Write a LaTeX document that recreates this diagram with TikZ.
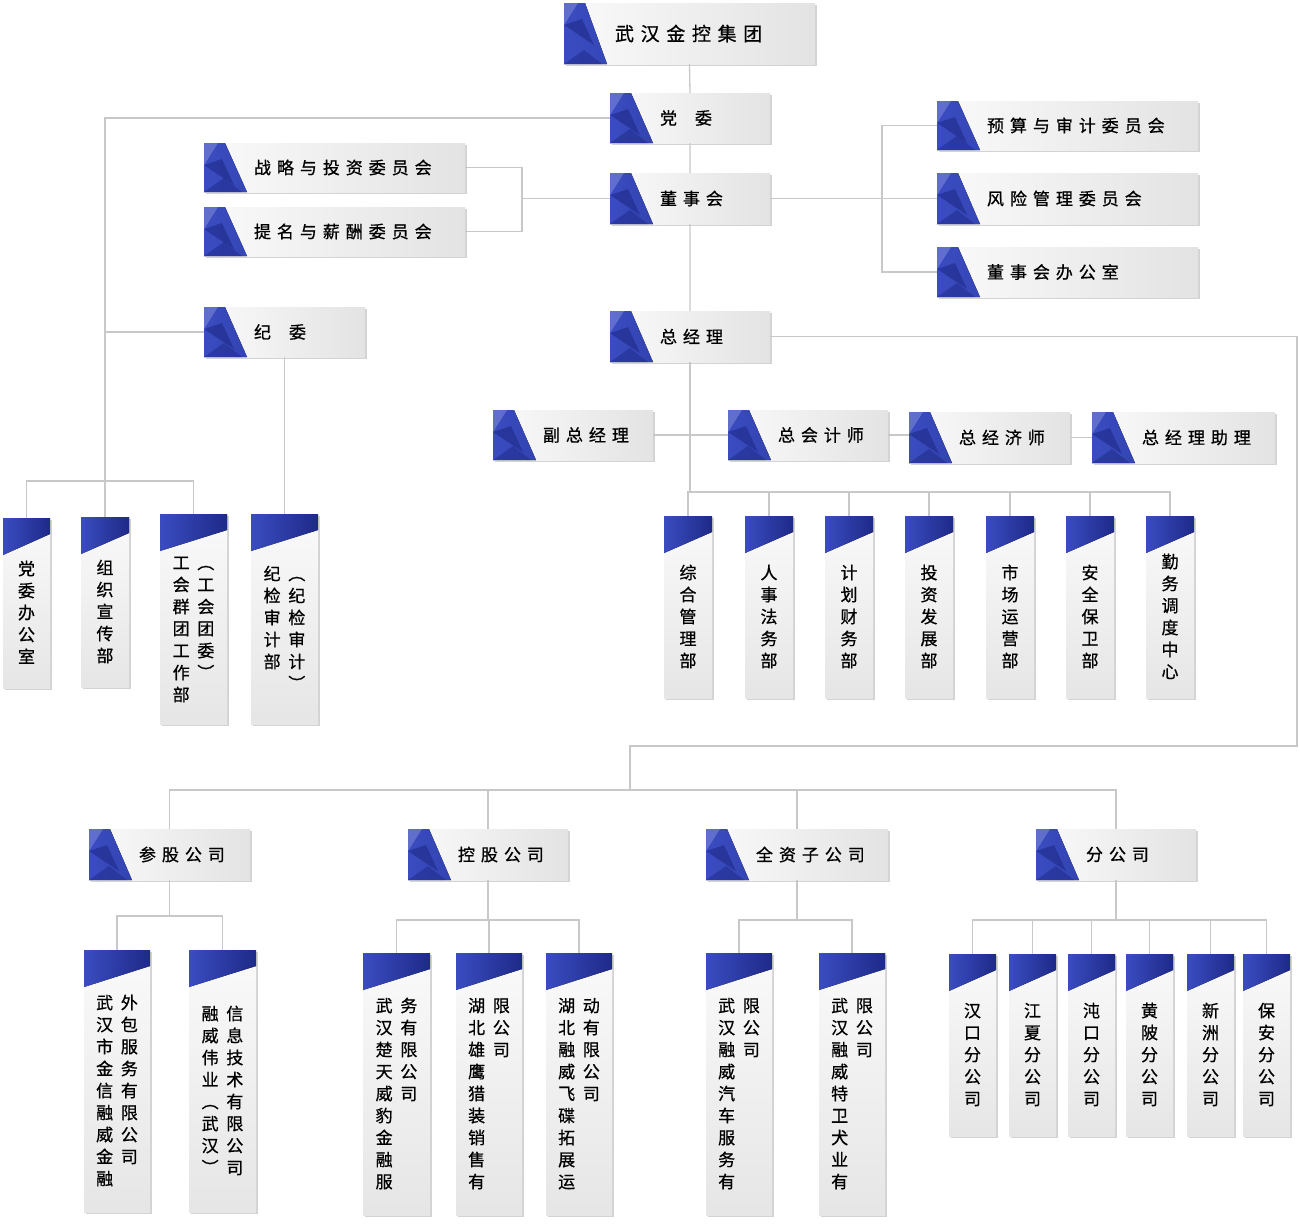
\documentclass[tikz,border=0pt]{standalone}
\usepackage{fontspec}
\setmainfont{Noto Sans CJK SC}[FakeBold=0.7]
\newfontfamily\hfont{Noto Sans CJK SC}[LetterSpace=35,FakeBold=0.7]
\usetikzlibrary{shadows,calc}
\definecolor{bandblue}{HTML}{3A4CC0}
\definecolor{banddark}{HTML}{1E2A88}
\definecolor{linkgray}{HTML}{C8C8C8}
% vertical text: one character per line
\def\vtaux#1{\ifx\relax#1\else\hbox to 1.1em{\hss\vrule height 16pt depth 6pt width 0pt #1\hss}\expandafter\vtaux\fi}
\newcommand\vt[1]{\vtop{\offinterlineskip\vtaux#1\relax}}
\tikzset{
  link/.style={draw=linkgray, line width=1.3pt},
  boxbase/.style={inner sep=0pt, outer sep=0pt, left color=white!96!gray, right color=gray!22,
    drop shadow={shadow xshift=2pt, shadow yshift=-2pt, opacity=0.35}},
  hboxnode/.style={boxbase, align=left, font=\hfont\fontsize{17}{20}\selectfont,
    path picture={
      \fill[left color=bandblue, right color=banddark] (path picture bounding box.north west) -- ++(21,0)
        -- ([xshift=43pt]path picture bounding box.south west) -- (path picture bounding box.south west) -- cycle;
      \fill[white, opacity=0.2] (path picture bounding box.north west) -- ++(14,0) -- ++(-14,22) -- cycle;
      \fill[banddark, opacity=0.6] ([yshift=-22pt]path picture bounding box.north west) -- ++(30,20) -- ++(-12,-26) -- cycle;
      \fill[banddark, opacity=0.5] (path picture bounding box.south west) -- ++(20,-14) -- ++(18,14) -- cycle;}},
  vboxnode/.style={boxbase, top color=white!96!gray, bottom color=gray!20,
    path picture={
      \fill[left color=bandblue, right color=banddark] (path picture bounding box.north west) -- (path picture bounding box.north east)
        -- ([yshift=-16pt]path picture bounding box.north east) -- ([yshift=-37pt]path picture bounding box.north west) -- cycle;
      \fill[white, opacity=0.18] (path picture bounding box.north west) -- ++(18,0) -- ++(-8,-18) -- cycle;
      \fill[banddark, opacity=0.5] ([xshift=12pt]path picture bounding box.north west) -- ++(16,-22) -- ++(-24,-8) -- cycle;}},
  vtext/.style={font=\fontsize{17}{20}\selectfont, inner sep=0pt}
}
% \hbx{name}{x1}{y1}{x2}{y2}{text}
\newcommand\hbx[6]{\node[hboxnode, minimum width={(#4-#2)*1pt}, minimum height={(#5-#3)*1pt},
  text width={(#4-#2-8)*1pt}] (#1) at ({(#2+#4)/2},{(#3+#5)/2}) {\hspace*{46pt}#6};}
% \vbx{name}{x1}{y1}{x2}{y2}{content}
\newcommand\vbx[6]{\node[vboxnode, minimum width={(#4-#2)*1pt}, minimum height={(#5-#3)*1pt}] (#1) at ({(#2+#4)/2},{(#3+#5)/2}) {};
  \node[vtext] (#1t) at ({(#2+#4)/2},{(#3+#5)/2+11}) {#6};}
\begin{document}
\begin{tikzpicture}[x=1pt,y=-1pt]
\useasboundingbox (0,0) rectangle (1300,1224);
%top levels
\node[hboxnode, minimum width=251pt, minimum height=61pt, text width=243pt, font=\hfont\fontsize{19}{22}\selectfont] (grp) at (689.5,33.5) {\hspace*{47pt}武汉金控集团};
\hbx{dw}{610}{93}{770}{143}{党\hspace{18pt}委}
\hbx{dsh}{610}{173}{770}{224}{董事会}
\hbx{zl}{204}{143}{465}{192}{战略与投资委员会}
\hbx{tm}{204}{207}{465}{256}{提名与薪酬委员会}
\hbx{ys}{937}{101}{1198}{150}{预算与审计委员会}
\hbx{fx}{937}{173}{1198}{224}{风险管理委员会}
\hbx{bgs}{937}{247}{1198}{297}{董事会办公室}
\hbx{jw}{204}{307}{365}{357}{纪\hspace{18pt}委}
\hbx{zjl}{610}{311}{770}{362}{总经理}
\hbx{fz}{493}{410}{653}{460}{副总经理}
\hbx{zk}{728}{410}{888}{460}{总会计师}
\hbx{zjs}{909}{412}{1070}{463}{总经济师}
\hbx{zlz}{1092}{412}{1275}{463}{总经理助理}
\hbx{cg}{89}{829}{250}{880}{参股公司}
\hbx{kg}{408}{829}{568}{880}{控股公司}
\hbx{qz}{706}{829}{888}{880}{全资子公司}
\hbx{fg}{1036}{829}{1196}{880}{分公司}
%left departments
\vbx{dwb}{3}{518}{50}{688}{\vt{党委办公室}}
\vbx{zz}{81}{517}{129}{687}{\vt{组织宣传部}}
\vbx{gh}{160}{514}{227}{724}{\vt{工会群团工作部}\hspace{6pt}\vt{︵工会团委︶}}
\vbx{jj}{251}{514}{318}{724}{\vt{纪检审计部}\hspace{6pt}\vt{︵纪检审计︶}}
%departments under the general manager
\vbx{zh}{664}{516}{712}{698}{\vt{综合管理部}}
\vbx{rs}{745}{516}{793}{698}{\vt{人事法务部}}
\vbx{jh}{825}{516}{873}{698}{\vt{计划财务部}}
\vbx{tz}{905}{516}{953}{698}{\vt{投资发展部}}
\vbx{sc}{986}{516}{1034}{698}{\vt{市场运营部}}
\vbx{aq}{1066}{516}{1114}{698}{\vt{安全保卫部}}
\vbx{qw}{1146}{516}{1194}{698}{\vt{勤务调度中心}}
%companies
\vbx{c1}{84}{950}{150}{1212}{\vt{武汉市金信融威金融}\hspace{6pt}\vt{外包服务有限公司}}
\vbx{c2}{189}{950}{256}{1212}{\vt{融威伟业︵武汉︶}\hspace{6pt}\vt{信息技术有限公司}}
\vbx{k1}{363}{953}{430}{1215}{\vt{武汉楚天威豹金融服}\hspace{6pt}\vt{务有限公司}}
\vbx{k2}{456}{953}{522}{1215}{\vt{湖北雄鹰猎装销售有}\hspace{6pt}\vt{限公司}}
\vbx{k3}{546}{953}{612}{1215}{\vt{湖北融威飞碟拓展运}\hspace{6pt}\vt{动有限公司}}
\vbx{q1}{706}{953}{772}{1215}{\vt{武汉融威汽车服务有}\hspace{6pt}\vt{限公司}}
\vbx{q2}{819}{953}{885}{1215}{\vt{武汉融威特卫犬业有}\hspace{6pt}\vt{限公司}}
\vbx{f1}{949}{954}{996}{1136}{\vt{汉口分公司}}
\vbx{f2}{1009}{954}{1056}{1136}{\vt{江夏分公司}}
\vbx{f3}{1068}{954}{1115}{1136}{\vt{沌口分公司}}
\vbx{f4}{1126}{954}{1173}{1136}{\vt{黄陂分公司}}
\vbx{f5}{1187}{954}{1234}{1136}{\vt{新洲分公司}}
\vbx{f6}{1243}{954}{1290}{1136}{\vt{保安分公司}}
%connectors
\coordinate (cz) at (522,0);
\coordinate (cy) at (882,0);
\coordinate (lb) at (0,481);
\coordinate (mb) at (0,492);
\coordinate (r1) at (1297,746);
\coordinate (r2) at (630,790);
\coordinate (sb1) at ($(cg.south)+(0,36)$);
\coordinate (sb2) at ($(kg.south)+(0,40)$);
\coordinate (sb3) at ($(qz.south)+(0,40)$);
\coordinate (sb4) at ($(fg.south)+(0,40)$);
\draw[link] (grp.south) -- (dw.north) (dw.south) -- (dsh.north) (dsh.south) -- (zjl.north);
\draw[link] (dw.west) -| (zz.north);
\draw[link] (jw.west) -- (jw.west -| zz.north);
\draw[link] (zl.east) -| (cz |- dsh.west) (tm.east) -| (cz |- dsh.west) -- (dsh.west);
\draw[link] (dsh.east) -- (fx.west) (ys.west) -| (cy |- dsh.east) (bgs.west) -| (cy |- dsh.east);
\draw[link] (jw.south) -- (jj.north);
\draw[link] (dwb.north) |- (lb -| gh.north) -- (gh.north);
\draw[link] (zjl.south) -- (zjl.south |- mb);
\foreach \d in {zh,rs,jh,tz,sc,aq,qw} \draw[link] (\d.north) |- (zjl.south |- mb);
\draw[link] (fz.east) -- (zk.west) (zk.east) -- (zk.east -| zjs.west) (zjs.east) -- (zlz.west);
\draw[link] (zjl.east) -| (r1) -| (r2);
\foreach \d in {cg,kg,qz,fg} \draw[link] (\d.north) |- (r2);
\draw[link] (cg.south) -- (sb1);
\foreach \d in {c1,c2} \draw[link] (\d.north) |- (sb1);
\draw[link] (kg.south) -- (sb2);
\foreach \d in {k1,k2,k3} \draw[link] (\d.north) |- (sb2);
\draw[link] (qz.south) -- (sb3);
\foreach \d in {q1,q2} \draw[link] (\d.north) |- (sb3);
\draw[link] (fg.south) -- (sb4);
\foreach \d in {f1,f2,f3,f4,f5,f6} \draw[link] (\d.north) |- (sb4);
\end{tikzpicture}
\end{document}
